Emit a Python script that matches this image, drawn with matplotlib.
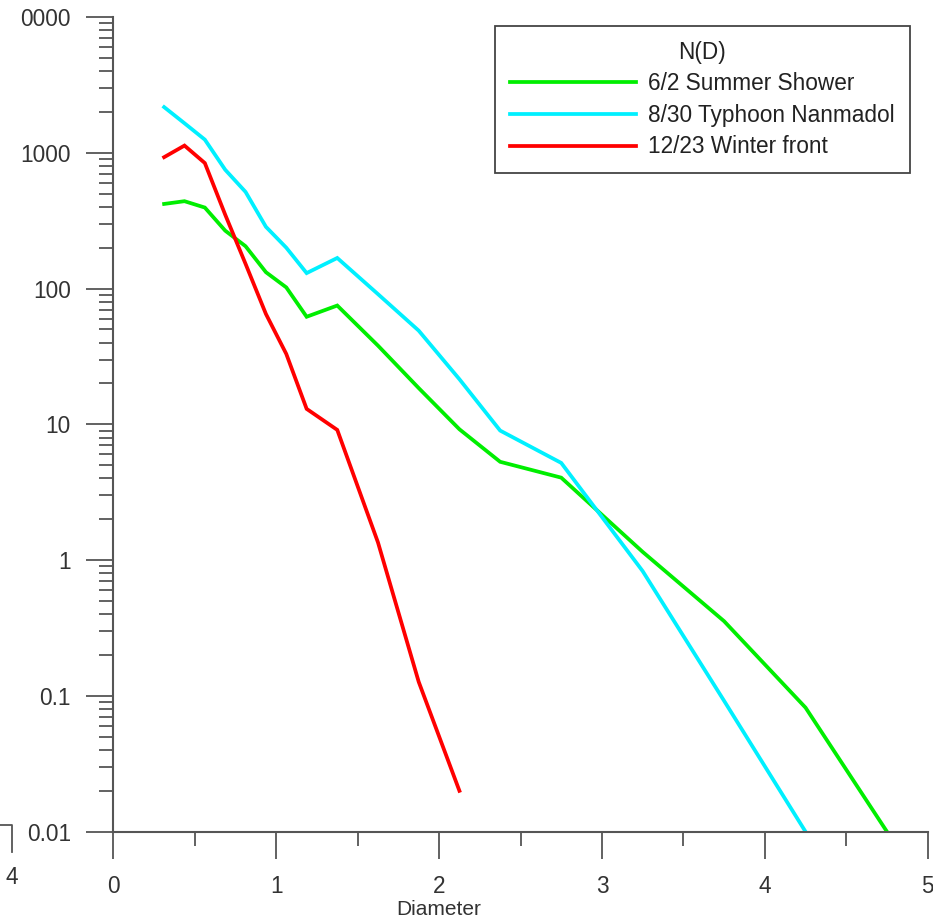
import matplotlib
matplotlib.use('Agg')
import matplotlib.pyplot as plt
from matplotlib.lines import Line2D
from matplotlib.ticker import FixedLocator, FixedFormatter, LogLocator, NullFormatter

plt.rcParams['font.family'] = ['Liberation Sans', 'DejaVu Sans']

# Parsivel size-class centres (mm)
diameter = [0.312, 0.437, 0.562, 0.687, 0.812, 0.937, 1.062, 1.187, 1.375,
            1.625, 1.875, 2.125, 2.375, 2.75, 3.25, 3.75, 4.25, 4.75]

summer_shower = [420, 440, 395, 267, 205, 132, 102, 62, 75,
                 38, 18.5, 9.2, 5.3, 4.05, 1.15, 0.355, 0.082, 0.01]
typhoon_nanmadol = [2170, 1650, 1250, 750, 515, 285, 200, 130, 168,
                    91, 49, 21.5, 9.0, 5.2, 0.83, 0.092, 0.01]
winter_front = [928, 1130, 840, 350, 152, 65, 33, 13, 9.1,
                1.35, 0.127, 0.02]

series_labels = ['6/2 Summer Shower', '8/30 Typhoon Nanmadol', '12/23 Winter front']
series_colors = ['#00ee00', '#00f0ff', '#ff0000']

y_ticks = [0.01, 0.1, 1, 10, 100, 1000, 10000]
y_tick_labels = ['0.01', '0.1', '1', '10', '100', '1000', '0000']
x_ticks = [0, 1, 2, 3, 4, 5]

W, H = 933, 921
fig = plt.figure(figsize=(W / 100, H / 100), dpi=100)
ax = fig.add_axes([113.3 / W, 1 - 831.7 / H, 814.4 / W, 814.7 / H])

all_series = [summer_shower, typhoon_nanmadol, winter_front]
for vals, lab, col in zip(all_series, series_labels, series_colors):
    ax.plot(diameter[:len(vals)], vals, color=col, lw=2.7, label=lab,
            solid_joinstyle='miter')

ax.set_yscale('log')
ax.set_ylim(0.01, 10000)
ax.set_xlim(0, 5)

axis_col = '#555555'
for s in ['top', 'right']:
    ax.spines[s].set_visible(False)
for s in ['left', 'bottom']:
    ax.spines[s].set_color(axis_col)
    ax.spines[s].set_linewidth(1.5)

ax.yaxis.set_major_locator(FixedLocator(y_ticks))
ax.yaxis.set_major_formatter(FixedFormatter(y_tick_labels))
ax.yaxis.set_minor_locator(LogLocator(base=10, subs=range(2, 10)))
ax.yaxis.set_minor_formatter(NullFormatter())
ax.set_xticks(x_ticks)
ax.set_xticks([0.5, 1.5, 2.5, 3.5, 4.5], minor=True)

ax.tick_params(which='major', length=19.5, width=1.3, color=axis_col,
               labelsize=16.3, labelcolor='#333333', pad=11)
ax.tick_params(which='minor', length=10, width=1.3, color=axis_col)
ax.tick_params(axis='x', which='major', pad=12)

ax.set_xlabel('Diameter', fontsize=15, color='#333333')
ax.xaxis.set_label_coords((438.9 - 113.3) / 814.4, -(900 - 831.7) / 814.7, transform=ax.transAxes)
ax.xaxis.label.set_verticalalignment('top')

leg = ax.legend(title='N(D)', loc='upper right', bbox_to_anchor=(0.978, 0.989),
                borderaxespad=0, fontsize=16.3, title_fontsize=16.3, fancybox=False,
                framealpha=1, edgecolor='#444444', handlelength=5.6,
                handletextpad=0.53, labelspacing=0.38, borderpad=0.65)
leg.get_frame().set_linewidth(1.3)
for t in leg.get_texts():
    t.set_color('#222222')
leg.get_title().set_color('#222222')

# stray marks at the left edge (cropped neighbour chart)
fig.add_artist(Line2D([0 / W, 12 / W, 12 / W], [1 - 825 / H, 1 - 825 / H, 1 - 852 / H],
                      transform=fig.transFigure, color=axis_col, lw=1.3))
fig.text(12 / W, 1 - 877 / H, '4', fontsize=16.3, color='#333333', ha='center', va='center')

fig.savefig('out.png', dpi=100)
